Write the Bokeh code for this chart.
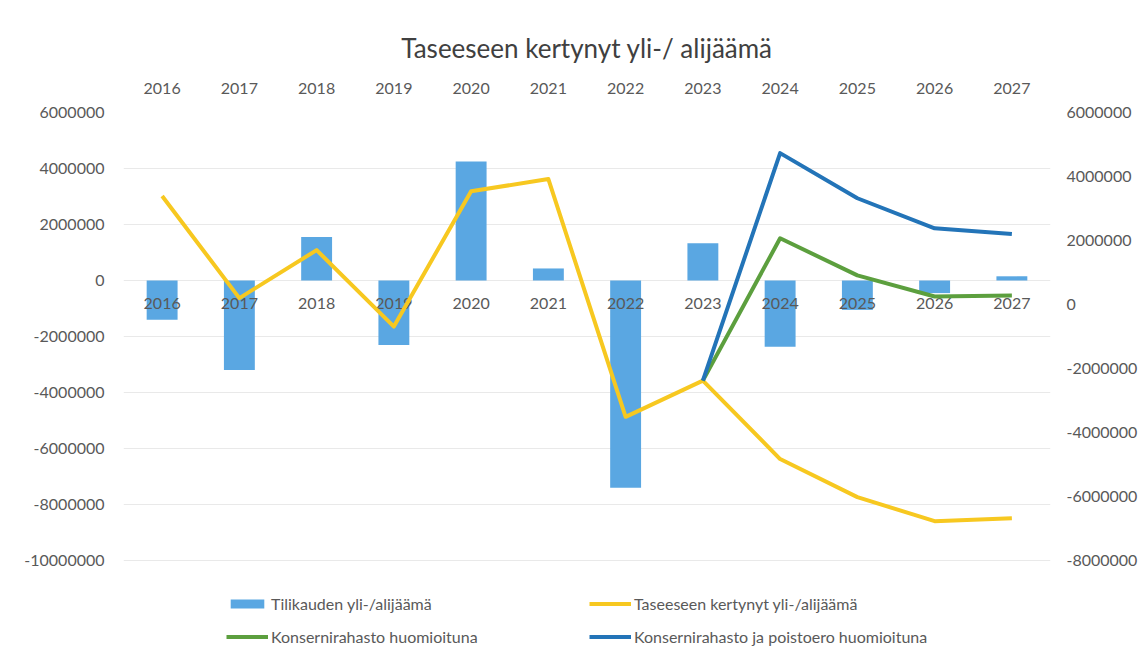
from bokeh.plotting import figure
from bokeh.models import (FactorRange, Range1d, LinearAxis, FixedTicker, Legend,
                          LegendItem, NumeralTickFormatter)
from bokeh.core.properties import value
from bokeh.embed import file_html
from bokeh.resources import INLINE

years = ["2016", "2017", "2018", "2019", "2020", "2021",
         "2022", "2023", "2024", "2025", "2026", "2027"]
tilikauden = [-1400000, -3200000, 1550000, -2300000, 4250000, 430000,
              -7400000, 1330000, -2370000, -1050000, -450000, 150000]
taseeseen = [3390000, 200000, 1700000, -690000, 3540000, 3920000,
             -3510000, -2380000, -4830000, -6020000, -6770000, -6680000]
kons_years = ["2023", "2024", "2025", "2026", "2027"]
konserni = [-2380000, 2070000, 910000, 250000, 280000]
konserni_poisto = [-2380000, 4730000, 3320000, 2380000, 2200000]

left_ticks = [-10000000, -8000000, -6000000, -4000000, -2000000, 0,
              2000000, 4000000, 6000000]
right_ticks = [-8000000, -6000000, -4000000, -2000000, 0,
               2000000, 4000000, 6000000]

FONT = "Lato"
GRAY = "#595959"
BAR = "#5aa7e2"
YELLOW = "#f7c820"
GREEN = "#5c9f3e"
BLUE = "#2374b8"

W, H = 1140, 650
TOP, LEFT, RIGHT = 112, 123, 90
# the plotting frame reaches the bottom so the legend can sit inside it;
# -10M (left) and -8M (right) fall 90px above the bottom edge
frame_h = H - TOP
left_end, right_end = 6000000, 6000000
left_start = left_end - 16000000 * frame_h / 448.0
right_start = right_end - 14000000 * frame_h / 448.0

p = figure(width=W, height=H,
           x_range=FactorRange(*years),
           y_range=Range1d(left_start, left_end),
           x_axis_location="above",
           output_backend="svg", toolbar_location=None,
           min_border_left=LEFT, min_border_right=RIGHT,
           min_border_top=TOP, min_border_bottom=0,
           title="Taseeseen kertynyt yli-/ alijäämä")
p.outline_line_color = None
p.background_fill_color = "white"
p.extra_y_ranges = {"right": Range1d(right_start, right_end)}

p.title.align = "center"
p.title.text_font = FONT
p.title.text_font_size = "26px"
p.title.text_font_style = "normal"
p.title.text_color = "#404040"
p.title.standoff = 31

# grid
p.xgrid.grid_line_color = None
p.ygrid.ticker = FixedTicker(ticks=left_ticks)
p.ygrid.grid_line_color = "#e9e9e9"

# left axis
ya = p.yaxis[0]
ya.ticker = FixedTicker(ticks=left_ticks)
ya.formatter = NumeralTickFormatter(format="0")
ya.major_label_standoff = 13

# right axis
ra = LinearAxis(y_range_name="right", ticker=FixedTicker(ticks=right_ticks),
                formatter=NumeralTickFormatter(format="0"))
ra.major_label_standoff = 10
p.add_layout(ra, "right")

# top category axis
xa = p.xaxis[0]
xa.major_label_standoff = 13

for ax in [ya, ra, xa]:
    ax.axis_line_color = None
    ax.major_tick_line_color = None
    ax.minor_tick_line_color = None
    ax.major_label_text_font = FONT
    ax.major_label_text_font_size = "16px"
    ax.major_label_text_color = GRAY

bars = p.vbar(x=years, top=tilikauden, bottom=0, width=0.4,
              fill_color=BAR, line_color=None)

# category labels at the zero line
p.text(x=years, y=[0] * len(years), text=years, y_offset=23,
       text_align="center", text_baseline="middle",
       text_font=value(FONT), text_font_size="16px", text_color=GRAY)

yl = p.line(x=years, y=taseeseen, y_range_name="right", line_width=4,
            line_color=YELLOW, line_join="round")
gl = p.line(x=kons_years, y=konserni, y_range_name="right", line_width=4,
            line_color=GREEN, line_join="round")
bl = p.line(x=kons_years, y=konserni_poisto, y_range_name="right", line_width=4,
            line_color=BLUE, line_join="round")

legend = Legend(items=[
    LegendItem(label="Tilikauden yli-/alijäämä", renderers=[bars]),
    LegendItem(label="Konsernirahasto huomioituna", renderers=[gl]),
    LegendItem(label="Taseeseen kertynyt yli-/alijäämä", renderers=[yl]),
    LegendItem(label="Konsernirahasto ja poistoero huomioituna", renderers=[bl]),
], ncols=2, location=(103, 4))
legend.glyph_width = 42
legend.glyph_height = 11
legend.label_height = 20
legend.label_width = 305
legend.label_standoff = 3
legend.spacing = 13
legend.padding = 3
legend.margin = 0
legend.border_line_color = None
legend.background_fill_alpha = 0
legend.label_text_font = FONT
legend.label_text_font_size = "16px"
legend.label_text_color = GRAY
p.add_layout(legend)

open("out.html", "w").write(file_html(p, INLINE))
